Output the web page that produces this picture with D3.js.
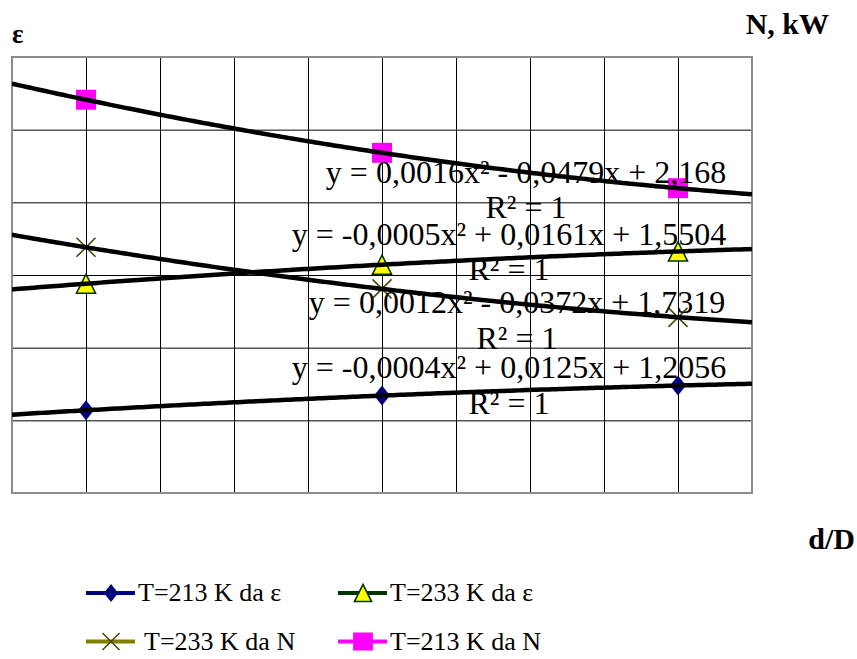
<!DOCTYPE html>
<html>
<head>
<meta charset="utf-8">
<script src="https://cdn.jsdelivr.net/npm/d3@7"></script>
<style>
  body { margin: 0; background: #fff; }
  text { font-family: "Liberation Serif", "Times New Roman", serif; fill: #000; }
</style>
</head>
<body>
<svg id="chart" width="857" height="659"></svg>
<script>
// d/D positions of the measured points
var xVals = [1, 5, 9];

// measured values (from the fitted equations, R² = 1)
var eps213 = [1.2177, 1.2581, 1.2857];
var eps233 = [1.5660, 1.6184, 1.6548];
var n233 = [1.6959, 1.5759, 1.4939];
var n213 = [2.1217, 1.9685, 1.8665];

// polynomial trendline coefficients [a, b, c] : y = a x² + b x + c
var trendEps213 = [-0.0004, 0.0125, 1.2056];
var trendEps233 = [-0.0005, 0.0161, 1.5504];
var trendN233 = [0.0012, -0.0372, 1.7319];
var trendN213 = [0.0016, -0.0479, 2.168];

var seriesNames = ["T=213 K da ε", "T=233 K da ε", " T=233 K da N", "T=213 K da N"];
var equations = [
  "y = -0,0004x² + 0,0125x + 1,2056",
  "y = -0,0005x² + 0,0161x + 1,5504",
  "y = 0,0012x² - 0,0372x + 1,7319",
  "y = 0,0016x² - 0,0479x + 2,168"
];
var r2Text = "R² = 1";

(function() {
var svg = d3.select("#chart");
var pLeft = 12, pRight = 752, pTop = 57, pBottom = 493;
var pw = pRight - pLeft, ph = pBottom - pTop;

var x = d3.scaleLinear().domain([0, 10]).range([pLeft, pRight]);
var yEps = d3.scaleLinear().domain([0.99, 2.19]).range([pBottom, pTop]);
var yN = d3.scaleLinear().domain([0.987, 2.245]).range([pBottom, pTop]);

svg.append("rect").attr("width", 857).attr("height", 659).attr("fill", "#fff");

// grid
var gx = svg.append("g")
  .attr("transform", "translate(0," + pBottom + ")")
  .call(d3.axisBottom(x).ticks(10).tickSize(-ph).tickFormat(""));
var gy = svg.append("g")
  .attr("transform", "translate(" + pLeft + ",0)")
  .call(d3.axisLeft(yEps).tickValues(d3.range(7).map(function(i) { return 0.99 + 0.2 * i; }))
    .tickSize(-pw).tickFormat(""));
[gx, gy].forEach(function(g) {
  g.select(".domain").remove();
  g.selectAll(".tick line").attr("stroke", "#000").attr("stroke-width", 1);
});

svg.append("rect")
  .attr("x", pLeft).attr("y", pTop).attr("width", pw).attr("height", ph)
  .attr("fill", "none").attr("stroke", "#8c8c8c").attr("stroke-width", 2);

svg.append("clipPath").attr("id", "plot")
  .append("rect").attr("x", pLeft).attr("y", pTop).attr("width", pw).attr("height", ph);

var series = [
  { values: eps213, coef: trendEps213, y: yEps, marker: "diamond", line: "#000080" },
  { values: eps233, coef: trendEps233, y: yEps, marker: "triangle", line: "#003300" },
  { values: n233, coef: trendN233, y: yN, marker: "cross", line: "#808000" },
  { values: n213, coef: trendN213, y: yN, marker: "square", line: "#ff00ff" }
];

function marker(g, type, cx, cy, big) {
  var k = big ? 1 : 0.9;
  if (type === "diamond") {
    var w = 8 * k, h = 10 * k;
    g.append("path").attr("d", "M" + cx + "," + (cy - h) + "L" + (cx + w) + "," + cy +
      "L" + cx + "," + (cy + h) + "L" + (cx - w) + "," + cy + "Z").attr("fill", "#000080");
  } else if (type === "triangle") {
    var tw = 9.5 * k, th = 9.5 * k;
    g.append("path").attr("d", "M" + cx + "," + (cy - th) + "L" + (cx + tw) + "," + (cy + th) +
      "L" + (cx - tw) + "," + (cy + th) + "Z")
      .attr("fill", "#ffff00").attr("stroke", "#003300").attr("stroke-width", 1.6);
  } else if (type === "cross") {
    var c = 9.5 * k;
    g.append("path").attr("d", "M" + (cx - c) + "," + (cy - c) + "L" + (cx + c) + "," + (cy + c) +
      "M" + (cx + c) + "," + (cy - c) + "L" + (cx - c) + "," + (cy + c))
      .attr("stroke", "#4a4a00").attr("stroke-width", 1.6).attr("fill", "none");
  } else {
    var s = big ? 10 : 9;
    g.append("rect").attr("x", cx - s * (big ? 1 : 1.1)).attr("y", cy - s)
      .attr("width", s * 2 * (big ? 1 : 1.1)).attr("height", s * 2).attr("fill", "#ff00ff");
  }
}

// markers
var mg = svg.append("g");
series.forEach(function(s) {
  s.values.forEach(function(v, i) {
    marker(mg, s.marker, x(xVals[i]), s.y(v), true);
  });
});

// trendlines
var xs = d3.range(0, 10.001, 0.05);
var tg = svg.append("g").attr("clip-path", "url(#plot)");
series.forEach(function(s) {
  var line = d3.line()
    .x(function(d) { return x(d); })
    .y(function(d) { return s.y(s.coef[0] * d * d + s.coef[1] * d + s.coef[2]); });
  tg.append("path").datum(xs).attr("d", line)
    .attr("fill", "none").attr("stroke", "#000").attr("stroke-width", 4.5);
});

// trendline labels
var labelPos = [
  { cx: 509, y1: 378, y2: 414 },
  { cx: 509, y1: 245, y2: 280 },
  { cx: 517, y1: 313, y2: 349 },
  { cx: 526, y1: 183, y2: 218 }
];
var lg = svg.append("g").style("font-size", "32px").attr("text-anchor", "middle");
labelPos.forEach(function(p, i) {
  lg.append("text").attr("x", p.cx).attr("y", p.y1).text(equations[i]);
  lg.append("text").attr("x", p.cx).attr("y", p.y2).text(r2Text);
});

// axis titles
svg.append("text").attr("x", 12).attr("y", 43).style("font-size", "27px")
  .style("font-weight", "bold").text("ε");
svg.append("text").attr("x", 829).attr("y", 34).attr("text-anchor", "end")
  .style("font-size", "30px").style("font-weight", "bold").text("N, kW");
svg.append("text").attr("x", 855).attr("y", 549).attr("text-anchor", "end")
  .style("font-size", "30px").style("font-weight", "bold").text("d/D");

// legend
var legPos = [[86, 593], [338, 593], [86, 641.5], [338, 641.5]];
var leg = svg.append("g");
series.forEach(function(s, i) {
  var px = legPos[i][0], py = legPos[i][1];
  leg.append("line").attr("x1", px).attr("x2", px + 49).attr("y1", py).attr("y2", py)
    .attr("stroke", s.line).attr("stroke-width", 4);
  marker(leg, s.marker, px + 25, py, false);
  leg.append("text").attr("x", px + 52).attr("y", py + 8)
    .style("font-size", "26px").style("white-space", "pre").text(seriesNames[i]);
});
})();
</script>
</body>
</html>
